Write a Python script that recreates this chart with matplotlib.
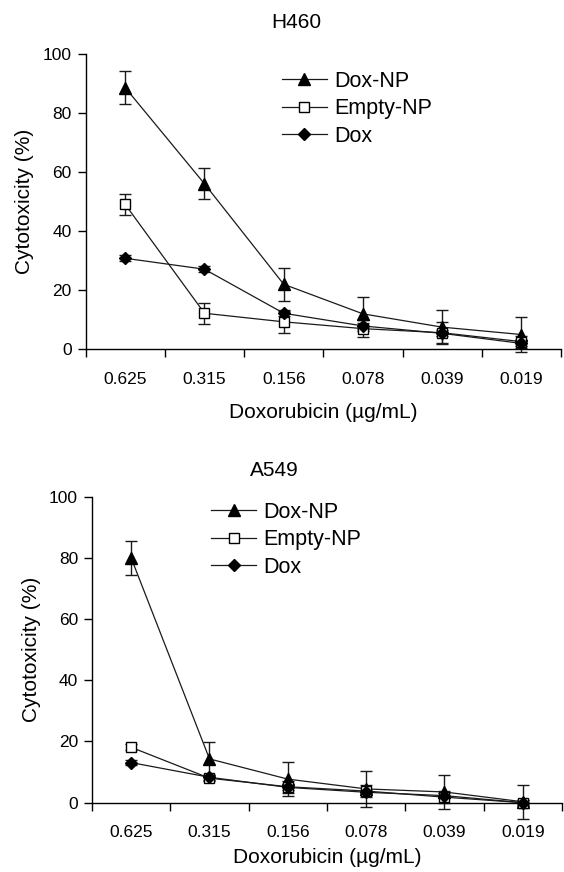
import matplotlib
matplotlib.use('Agg')
import matplotlib.pyplot as plt
import numpy as np

plt.rcParams['font.family'] = ['Liberation Sans', 'DejaVu Sans']

# Концентрации доксорубицина (категории по оси X)
doses = ['0.625', '0.315', '0.156', '0.078', '0.039', '0.019']

# H460
h460_doxnp = [88.5, 56.0, 22.0, 12.0, 7.5, 5.0]
h460_doxnp_err = [5.5, 5.3, 5.5, 5.8, 5.7, 6.0]
h460_empty = [49.0, 12.2, 9.3, 7.0, 5.6, 2.6]
h460_empty_err = [3.5, 3.6, 3.7, 3.0, 3.5, 2.0]
h460_dox = [30.8, 27.1, 12.2, 7.9, 5.4, 2.0]
h460_dox_err = [1.0, 1.0, 1.0, 1.0, 1.0, 1.0]

# A549
a549_doxnp = [80.0, 14.3, 7.7, 4.5, 3.5, 0.3]
a549_doxnp_err = [5.5, 5.6, 5.5, 5.8, 5.7, 5.5]
a549_empty = [18.1, 8.0, 5.2, 3.8, 1.8, 0.0]
a549_empty_err = [1.0, 1.0, 2.0, 2.0, 2.0, 1.0]
a549_dox = [13.1, 8.3, 5.0, 3.4, 2.3, 0.0]
a549_dox_err = [0.8, 0.8, 0.8, 0.8, 0.8, 0.8]

fig = plt.figure(figsize=(5.64, 8.72), dpi=100)
ax1 = fig.add_axes([0.1518, 0.5994, 0.843, 0.339])
ax2 = fig.add_axes([0.1631, 0.0795, 0.8333, 0.3509])

x = np.arange(len(doses))
lc = '#1a1a1a'


def draw(ax, doxnp, doxnp_err, empty, empty_err, dox, dox_err, leg_anchor, title, title_xy, xpad):
    # сначала усы ошибок, потом линии с маркерами (чтобы в легенде не было усов)
    for vals, errs in [(doxnp, doxnp_err), (empty, empty_err), (dox, dox_err)]:
        ax.errorbar(x, vals, yerr=errs, fmt='none', ecolor=lc, elinewidth=1.0,
                    capsize=4.5, capthick=1.0, clip_on=False, zorder=2)
    ax.plot(x, doxnp, color=lc, lw=0.9, marker='^', ms=8, mfc='black', mec='black',
            label='Dox-NP', clip_on=False, zorder=3)
    ax.plot(x, empty, color=lc, lw=0.9, marker='s', ms=7, mfc='white', mec='black',
            mew=1.0, label='Empty-NP', clip_on=False, zorder=3)
    ax.plot(x, dox, color=lc, lw=0.9, marker='D', ms=6, mfc='black', mec='black',
            label='Dox', clip_on=False, zorder=4)

    ax.set_xlim(-0.5, len(doses) - 0.5)
    ax.set_ylim(0, 100)
    ax.set_yticks([0, 20, 40, 60, 80, 100])
    ax.set_xticks(np.arange(-0.5, len(doses), 1.0))
    ax.set_xticklabels([])
    ax.set_xticks(x, minor=True)
    ax.set_xticklabels(doses, minor=True)
    ax.tick_params(axis='x', which='major', direction='out', length=6, width=1)
    ax.tick_params(axis='x', which='minor', length=0, pad=16, labelsize=12.5)
    ax.tick_params(axis='y', direction='out', length=6, width=1, pad=4, labelsize=12.5)
    for s in ['top', 'right']:
        ax.spines[s].set_visible(False)
    for s in ['left', 'bottom']:
        ax.spines[s].set_linewidth(1)
    ax.set_xlabel('Doxorubicin (µg/mL)', fontsize=15, labelpad=xpad)
    ax.set_ylabel('Cytotoxicity (%)', fontsize=15, labelpad=6)

    ax.legend(loc='upper left', bbox_to_anchor=leg_anchor, bbox_transform=fig.transFigure,
              frameon=False, fontsize=15.5, handlelength=2.1, handletextpad=0.35,
              labelspacing=0.3, borderpad=0, borderaxespad=0, numpoints=1)
    fig.text(title_xy[0] / 564, 1 - title_xy[1] / 872, title, fontsize=15,
             ha='center', va='center')


draw(ax1, h460_doxnp, h460_doxnp_err, h460_empty, h460_empty_err, h460_dox, h460_dox_err,
     (281.7 / 564, 1 - 71 / 872), 'H460', (296, 23), 12)
draw(ax2, a549_doxnp, a549_doxnp_err, a549_empty, a549_empty_err, a549_dox, a549_dox_err,
     (211 / 564, 1 - 502 / 872), 'A549', (274, 470), 6)

fig.savefig('out.png', dpi=100)
